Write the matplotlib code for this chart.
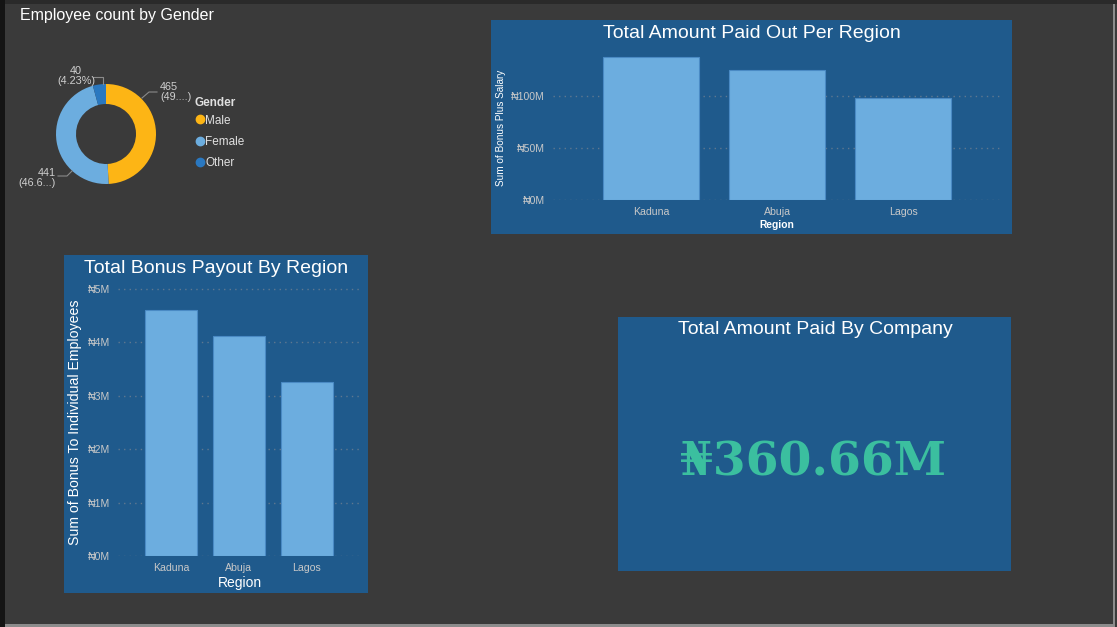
import matplotlib
matplotlib.use("Agg")
import matplotlib.pyplot as plt
from matplotlib.patches import Rectangle
from matplotlib.lines import Line2D

plt.rcParams['font.family'] = ['Liberation Sans', 'DejaVu Sans']

W, H = 1117, 627

# data
genders = ['Male', 'Female', 'Other']
gender_counts = [465, 441, 40]
gender_labels = ['465\n(49....)', '441\n(46.6...)', '40\n(4.23%)']
gender_colors = ['#fdb515', '#6caddf', '#2a78c0']

regions = ['Kaduna', 'Abuja', 'Lagos']
paid_out_m = [137.5, 125.0, 98.0]       # bonus + salary, millions
bonus_m = [4.61, 4.12, 3.26]            # bonus, millions
total_paid = '₦360.66M'

BG = '#3a3a3a'
PANEL = '#1f5a8c'
BAR = '#6caddf'
BAR_EDGE = '#4a8ac4'
GRID = '#5f7890'
TICK = '#c8c8c8'


def box(x0, y0, x1, y1):
    return [x0 / W, 1 - y1 / H, (x1 - x0) / W, (y1 - y0) / H]


def fx(x):
    return x / W


def fy(y):
    return 1 - y / H


def panel(fig, x0, y0, x1, y1, color):
    fig.add_artist(Rectangle((fx(x0), fy(y1)), (x1 - x0) / W, (y1 - y0) / H,
                             transform=fig.transFigure, facecolor=color,
                             edgecolor='none', zorder=0))


fig = plt.figure(figsize=(W / 100, H / 100), dpi=100, facecolor=BG)

# frame strips
panel(fig, 0, 0, W, 4, '#2a2a2a')
panel(fig, 0, 0, 5, H, '#141414')
panel(fig, 1113, 4, 1115, H, '#8c8c8c')
panel(fig, 5, 624, 1113, H, '#8c8c8c')

# panels
panel(fig, 491, 20, 1012, 234, PANEL)
panel(fig, 64, 255, 368, 593, PANEL)
panel(fig, 618, 317, 1011, 571, PANEL)


def bar_chart(rect, values, ylim, xlim, ticks, ticklabels, pad_y, pad_x):
    ax = fig.add_axes(rect)
    ax.set_facecolor('none')
    x = range(len(regions))
    ax.bar(x, values, width=0.76, color=BAR, edgecolor=BAR_EDGE, linewidth=0.8, zorder=2)
    ax.set_xlim(*xlim)
    ax.set_ylim(*ylim)
    ax.set_yticks(ticks)
    ax.set_yticklabels(ticklabels)
    ax.set_xticks(list(x))
    ax.set_xticklabels(regions)
    ax.grid(axis='y', color=GRID, linestyle=(0, (1, 3)), linewidth=1, zorder=1)
    ax.tick_params(length=0, colors=TICK, labelsize=7.6)
    ax.tick_params(axis='y', pad=pad_y)
    ax.tick_params(axis='x', pad=pad_x)
    for s in ax.spines.values():
        s.set_visible(False)
    return ax


# Total Amount Paid Out Per Region
ax1 = bar_chart(box(553, 49, 1000, 200), paid_out_m, (0, 145), (-0.78, 2.77),
                [0, 50, 100], ['₦0M', '₦50M', '₦100M'], 6, 5)
ax1.set_xlabel('Region', color='white', fontsize=7.4, fontweight='bold', labelpad=2)
ax1.set_ylabel('Sum of Bonus Plus Salary', color='white', fontsize=7.2)
ax1.yaxis.set_label_coords(-0.105, 0.48)
fig.text(fx(752), fy(31), 'Total Amount Paid Out Per Region', color='white',
         fontsize=14, ha='center', va='center_baseline')

# Total Bonus Payout By Region
ax2 = bar_chart(box(118, 283, 362, 556), bonus_m, (0, 5.11), (-0.78, 2.81),
                [0, 1, 2, 3, 4, 5], ['₦0M', '₦1M', '₦2M', '₦3M', '₦4M', '₦5M'], 6, 5)
ax2.set_xlabel('Region', color='white', fontsize=10, labelpad=2.5)
ax2.set_ylabel('Sum of Bonus To Individual Employees', color='white', fontsize=10.2)
ax2.yaxis.set_label_coords(-0.148, 0.49)
fig.text(fx(216), fy(266), 'Total Bonus Payout By Region', color='white',
         fontsize=14, ha='center', va='center_baseline')

# KPI card
fig.text(fx(815), fy(328), 'Total Amount Paid By Company', color='white',
         fontsize=14, ha='center', va='center_baseline')
fig.text(fx(813), fy(463), total_paid, color='#3bbf9f', fontsize=34,
         fontweight='bold', family=['DejaVu Serif'], ha='center', va='center')

# Employee count by Gender
fig.text(fx(20), fy(14), 'Employee count by Gender', color='white',
         fontsize=11.5, ha='left', va='center_baseline')

axp = fig.add_axes(box(56, 84, 156, 184))
axp.pie(gender_counts, colors=gender_colors, startangle=90, counterclock=False,
        radius=1, wedgeprops=dict(width=0.4, linewidth=0))
axp.set_xlim(-1, 1)
axp.set_ylim(-1, 1)
axp.set_aspect('equal')

lab_col = '#d0d0d0'
line_col = '#8a8a8a'
# leader lines and labels (pie data coords, 1 unit = 50 px)
axp.plot([0.72, 0.86, 1.02], [0.72, 0.84, 0.84], color=line_col, lw=0.8, clip_on=False)
axp.text(1.08, 0.84, gender_labels[0], color=lab_col, fontsize=7.8, ha='left',
         va='center', linespacing=1.1)
axp.plot([-0.68, -0.78, -0.96], [-0.74, -0.84, -0.84], color=line_col, lw=0.8, clip_on=False)
axp.text(-1.0, -0.88, gender_labels[1], color=lab_col, fontsize=7.8, ha='right',
         va='center', linespacing=1.1)
axp.plot([-0.06, -0.06, -0.26], [1.0, 1.14, 1.14], color=line_col, lw=0.8, clip_on=False)
axp.text(-0.6, 1.16, gender_labels[2], color=lab_col, fontsize=7.8, ha='center',
         va='center', linespacing=1.1)

# legend
fig.text(fx(195), fy(101), 'Gender', color='#e0e0e0', fontsize=8.5,
         fontweight='bold', ha='left', va='center_baseline')
for i, (g, c) in enumerate(zip(genders, gender_colors)):
    y = 119 + i * 21.5
    fig.add_artist(Line2D([fx(199.5)], [fy(y)], marker='o', markersize=6,
                          color=c, linestyle='none', transform=fig.transFigure))
    fig.text(fx(205), fy(y), g, color='#e0e0e0', fontsize=8.5, ha='left',
             va='center_baseline')

fig.savefig('out.png', dpi=100, facecolor=BG)
